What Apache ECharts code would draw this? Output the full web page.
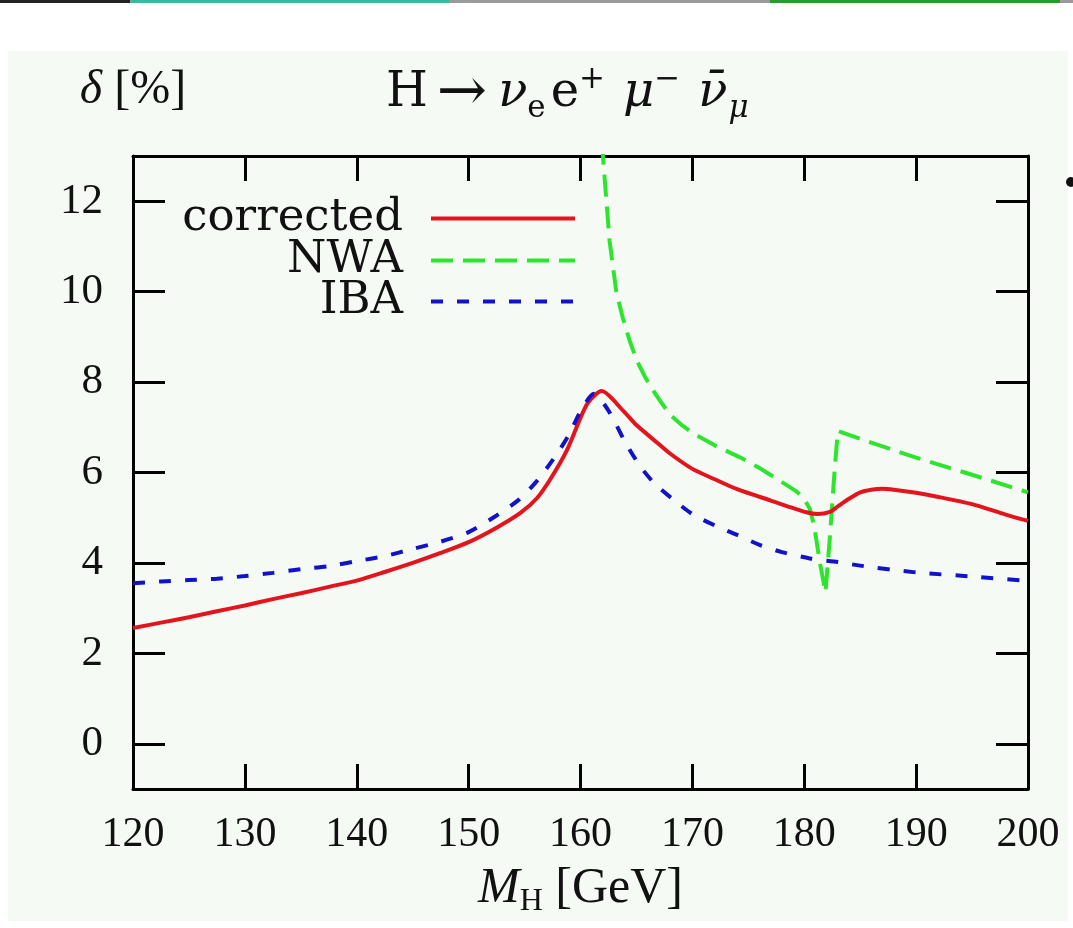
<!DOCTYPE html>
<html><head><meta charset="utf-8">
<script src="https://cdn.jsdelivr.net/npm/echarts@6/dist/echarts.min.js"></script>
<style>html,body{margin:0;padding:0;background:#fff}#c{width:1073px;height:928px}</style>
</head><body><div id="c"></div>
<script>
// ---- data ----
const xTicks = [120,130,140,150,160,170,180,190,200];
const yTicks = [0,2,4,6,8,10,12];

const correctedM = [120,122.5,125,127.5,130,132.5,135,137.5,140,142.5,145,147.5,150,152.5,154.6,156.1,157.3,158.8,160.6,161.9,163.8,165,166.8,168,170,172,174,177,180.2,181.2,182.3,183,184,185,186,187,188,190,192,195,198,200];
const correctedD = [2.56,2.68,2.8,2.93,3.06,3.2,3.33,3.47,3.61,3.8,4.0,4.22,4.46,4.78,5.1,5.43,5.85,6.5,7.52,7.8,7.37,7.05,6.67,6.42,6.08,5.85,5.63,5.38,5.12,5.08,5.13,5.25,5.42,5.56,5.62,5.64,5.62,5.55,5.46,5.3,5.07,4.93];

const nwaM = [161.7,162.0,162.6,163.2,163.8,164.4,165.05,165.8,166.5,167.3,168,169,170.1,172,174.3,176,177.8,179.2,179.9,180.5,180.9,181.4,181.9,182.3,182.7,183.0,186,190,195,200];
const nwaD = [14,13,11.12,10.0,9.4,8.91,8.47,8.1,7.81,7.52,7.28,7.06,6.86,6.6,6.33,6.1,5.82,5.6,5.45,5.2,4.8,4.0,3.35,4.6,6.0,6.92,6.66,6.33,5.95,5.56];

const ibaM = [120,122.5,125,127.5,130,132.5,135,137.5,140,142.5,145,147.5,150,152.5,154.5,156,157,158,159,160,161.2,162.5,164,165.3,166.6,168.2,170,172,174,176,178,180.5,183,185,190,195,200];
const ibaD = [3.55,3.59,3.62,3.65,3.71,3.78,3.86,3.93,4.04,4.15,4.31,4.47,4.68,5.05,5.4,5.78,6.1,6.45,6.85,7.35,7.74,7.37,6.67,6.15,5.76,5.42,5.08,4.83,4.62,4.4,4.24,4.1,4.02,3.94,3.79,3.7,3.6];

const seriesNames = ['corrected','NWA','IBA'];

const pairs = (xs, ys) => xs.map((x,i)=>[x, ys[i]]);
const serif = 'DejaVu Serif';
const tserif = 'Liberation Serif';
const chart = echarts.init(document.getElementById('c'), null, {renderer:'canvas'});

const axisCommon = {
  axisLine:{show:true, onZero:false, lineStyle:{color:'#000', width:3}},
  splitLine:{show:false}
};

const legendBase = (name, top) => ({
  data:[name], orient:'vertical', align:'right', right:496, top:top, padding:0,
  itemWidth:144, itemHeight:20, itemGap:0, selectedMode:false,
  itemStyle:{opacity:0},
  lineStyle:{width:4},
  textStyle:{fontFamily:serif, fontSize:45, color:'#111', padding:[0,23,0,0]}
});

const T = {color:'#111', fontWeight:'normal', lineHeight:60};
const tok = (o) => Object.assign({}, T, o);
chart.setOption({
  backgroundColor:'#ffffff',
  animation:false,
  title:{
    text:'{h|H}{arr|→}{nu|ν}{se|e}{e|e}{sp|+}{mu|μ}{sm|−}{nb|ν̄}{smu|μ}',
    left:386, top:64, padding:0,
    textStyle:{
      fontWeight:'normal',
      rich:{
        h:tok({fontFamily:serif, fontSize:48, verticalAlign:'middle', padding:[0,9,0,0]}),
        arr:tok({fontFamily:serif, fontSize:60, verticalAlign:'middle', padding:[0,11,0,0]}),
        nu:tok({fontFamily:serif, fontStyle:'italic', fontSize:48, verticalAlign:'middle'}),
        se:tok({fontFamily:serif, fontSize:31, verticalAlign:'bottom', padding:[0,5,0,0]}),
        e:tok({fontFamily:serif, fontSize:48, verticalAlign:'middle'}),
        sp:tok({fontFamily:serif, fontSize:31, verticalAlign:'top', padding:[0,18,0,0]}),
        mu:tok({fontFamily:serif, fontStyle:'italic', fontSize:48, verticalAlign:'middle'}),
        sm:tok({fontFamily:serif, fontSize:31, verticalAlign:'top', padding:[0,18,0,0]}),
        nb:tok({fontFamily:serif, fontStyle:'italic', fontSize:48, verticalAlign:'middle', padding:[0,1,0,0]}),
        smu:tok({fontFamily:serif, fontStyle:'italic', fontSize:31, verticalAlign:'bottom'})
      }
    }
  },
  legend:[legendBase('corrected',196), legendBase('NWA',238), legendBase('IBA',279)],
  grid:{left:133, right:45, top:156, bottom:139, containLabel:false, outerBoundsMode:'none'},
  xAxis:[
    Object.assign({type:'value', position:'bottom', min:120, max:200, interval:10,
      axisTick:{show:true, inside:true, length:25, lineStyle:{color:'#000', width:3}},
      axisLabel:{show:true, margin:25, fontFamily:tserif, fontSize:42, color:'#111',
        showMinLabel:true, showMaxLabel:true},
      name:'{i|M}{sub|H}{r| [GeV]}', nameLocation:'middle', nameGap:71,
      nameTextStyle:{rich:{
        r:{fontFamily:tserif, fontSize:50, color:'#111', lineHeight:58, verticalAlign:'middle'},
        i:{fontFamily:tserif, fontStyle:'italic', fontSize:50, color:'#111', lineHeight:58, verticalAlign:'middle'},
        sub:{fontFamily:tserif, fontSize:32, color:'#111', lineHeight:58, verticalAlign:'bottom'}
      }}
    }, axisCommon),
    Object.assign({type:'value', position:'top', min:120, max:200, interval:10,
      axisTick:{show:true, inside:true, length:25, lineStyle:{color:'#000', width:3}},
      axisLabel:{show:false}
    }, axisCommon)
  ],
  yAxis:[
    Object.assign({type:'value', position:'left', min:-1, max:13,
      axisTick:{show:true, inside:true, length:32, customValues:yTicks, lineStyle:{color:'#000', width:3}},
      axisLabel:{show:true, margin:30, customValues:yTicks, fontFamily:tserif, fontSize:43, color:'#111'},
      name:'{i|δ}{r| [%]}', nameLocation:'end', nameGap:42,
      nameTextStyle:{align:'center', rich:{
        r:{fontFamily:tserif, fontSize:48, color:'#111'},
        i:{fontFamily:tserif, fontStyle:'italic', fontSize:48, color:'#111'}
      }}
    }, axisCommon),
    Object.assign({type:'value', position:'right', min:-1, max:13,
      axisTick:{show:true, inside:true, length:32, customValues:yTicks, lineStyle:{color:'#000', width:3}},
      axisLabel:{show:false}
    }, axisCommon)
  ],
  graphic:[
    {type:'rect', z:-10, silent:true, shape:{x:8, y:51, width:1060, height:870}, style:{fill:'#f6faf5'}},
    {type:'rect', z:-5, silent:true, shape:{x:0, y:0, width:1073, height:3}, style:{fill:'#9a9a9a'}},
    {type:'rect', z:-4, silent:true, shape:{x:0, y:0, width:130, height:3}, style:{fill:'#222'}},
    {type:'rect', z:-4, silent:true, shape:{x:131, y:0, width:318, height:3}, style:{fill:'#3db89c'}},
    {type:'rect', z:-4, silent:true, shape:{x:770, y:0, width:290, height:3}, style:{fill:'#2a9a2a'}},
    {type:'circle', silent:true, shape:{cx:1071, cy:182, r:5}, style:{fill:'#111'}}
  ],
  series:[
    {name:seriesNames[0], type:'line', xAxisIndex:0, yAxisIndex:0, data:pairs(correctedM, correctedD),
     showSymbol:false, symbol:'none', smooth:0.25, clip:true,
     lineStyle:{color:'#e3141c', width:4}, itemStyle:{color:'#e3141c'}, z:3},
    {name:seriesNames[1], type:'line', xAxisIndex:0, yAxisIndex:0, data:pairs(nwaM, nwaD),
     showSymbol:false, symbol:'none', smooth:false, clip:true,
     lineStyle:{color:'#2fe42f', width:4, type:[22,10]}, itemStyle:{color:'#2fe42f'}, z:2},
    {name:seriesNames[2], type:'line', xAxisIndex:0, yAxisIndex:0, data:pairs(ibaM, ibaD),
     showSymbol:false, symbol:'none', smooth:0.25, clip:true,
     lineStyle:{color:'#1212c8', width:4, type:[12,14]}, itemStyle:{color:'#1212c8'}, z:4}
  ]
});
</script></body></html>
